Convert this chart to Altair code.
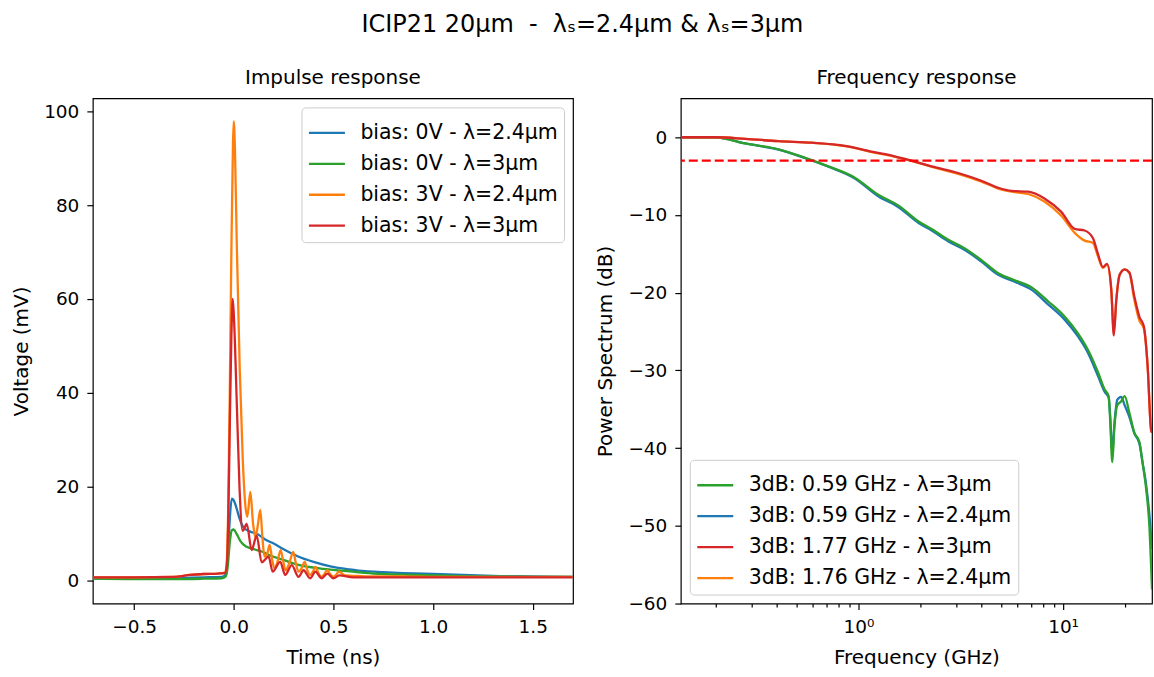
import altair as alt
import pandas as pd

FONT = "DejaVu Sans"

# ---------------- Impulse response data ----------------
imp_labels = ["bias: 0V - λ=2.4µm", "bias: 0V - λ=3µm", "bias: 3V - λ=2.4µm", "bias: 3V - λ=3µm"]
imp_colors = ["#1f77b4", "#2ca02c", "#ff7f0e", "#d62728"]

t_blue = [-0.707, -0.5, -0.3, -0.15, -0.06, -0.04, -0.03, -0.02, -0.01, 0.0, 0.015, 0.03, 0.05, 0.08, 0.12,
          0.16, 0.2, 0.25, 0.32, 0.4, 0.49, 0.58, 0.66, 0.75, 0.85, 1.0, 1.15, 1.3, 1.5, 1.7]
v_blue = [0.3, 0.3, 0.4, 0.6, 0.7, 1.2, 5.0, 13.0, 17.4, 17.0, 15.2, 13.0, 11.2, 10.4, 9.8,
          8.6, 7.8, 6.6, 5.1, 3.9, 2.9, 2.3, 1.9, 1.7, 1.5, 1.3, 1.1, 0.9, 0.8, 0.7]

t_green = [-0.707, -0.5, -0.3, -0.15, -0.06, -0.04, -0.03, -0.02, -0.01, 0.0, 0.015, 0.035, 0.065, 0.1,
           0.14, 0.18, 0.25, 0.33, 0.43, 0.55, 0.7, 0.9, 1.2, 1.5, 1.7]
v_green = [0.3, 0.2, 0.2, 0.3, 0.4, 0.8, 3.0, 8.0, 10.6, 10.8, 9.8, 8.2, 7.1, 6.6,
           6.1, 5.3, 4.3, 3.2, 2.5, 2.0, 1.4, 1.1, 0.8, 0.7, 0.7]

t_orange = [-0.707, -0.5, -0.3, -0.22, -0.15, -0.08, -0.045, -0.035, -0.028, -0.02, -0.012, -0.004, 0.0,
            0.006, 0.015, 0.03, 0.045, 0.058, 0.068, 0.083, 0.097, 0.108, 0.12, 0.133, 0.144, 0.154,
            0.167, 0.18, 0.192, 0.204, 0.22, 0.235, 0.248, 0.26, 0.28, 0.298, 0.312, 0.325, 0.34,
            0.356, 0.37, 0.383, 0.397, 0.41, 0.425, 0.44, 0.455, 0.468, 0.485, 0.5, 0.515, 0.527,
            0.56, 0.62, 0.7, 0.85, 1.0, 1.2, 1.4, 1.7]
v_orange = [0.6, 0.6, 0.7, 1.1, 1.3, 1.4, 1.6, 4.0, 15.0, 40.0, 70.0, 93.0, 97.9,
            92.0, 72.0, 45.0, 26.0, 16.0, 13.5, 18.8, 12.0, 9.2, 11.5, 15.0, 9.0, 5.0,
            5.5, 7.5, 4.5, 2.5, 4.0, 6.4, 4.0, 2.1, 3.8, 6.0, 3.5, 1.8, 2.5,
            3.9, 2.0, 1.1, 1.8, 2.8, 1.5, 0.7, 1.3, 2.1, 1.2, 0.7, 1.2, 1.8,
            1.0, 0.9, 0.8, 0.8, 0.7, 0.7, 0.7, 0.7]

t_red = [-0.707, -0.5, -0.3, -0.22, -0.15, -0.08, -0.045, -0.035, -0.028, -0.021, -0.012, -0.005, 0.002,
         0.015, 0.029, 0.045, 0.065, 0.09, 0.115, 0.14, 0.175, 0.195, 0.233, 0.258, 0.291, 0.325,
         0.35, 0.383, 0.41, 0.44, 0.47, 0.5, 0.53, 0.6, 0.8, 1.0, 1.3, 1.7]
v_red = [0.6, 0.6, 0.7, 1.1, 1.3, 1.4, 1.5, 3.0, 12.0, 30.0, 52.0, 60.0, 55.0,
         38.0, 19.6, 10.5, 12.0, 6.4, 9.5, 3.8, 5.0, 1.8, 3.9, 1.1, 3.2, 0.7,
         2.1, 0.4, 1.8, 0.4, 1.4, 0.4, 1.0, 0.6, 0.6, 0.6, 0.6, 0.6]

# ---------------- Frequency response data ----------------
fr_labels = ["3dB: 0.59 GHz - λ=3µm", "3dB: 0.59 GHz - λ=2.4µm", "3dB: 1.77 GHz - λ=3µm", "3dB: 1.76 GHz - λ=2.4µm"]
fr_colors = ["#2ca02c", "#1f77b4", "#d62728", "#ff7f0e"]

f_low = [0.1355, 0.2, 0.28, 0.407, 0.55, 0.714, 0.96, 1.25, 1.57, 1.96, 2.28, 2.75, 3.31, 3.99, 4.82,
         5.8, 7.0, 8.44, 10.2, 11.8, 13.2, 14.8, 16.0, 16.7, 17.0, 17.4, 17.8, 18.4, 19.2, 20.0,
         21.1, 22.3, 23.6, 24.5, 25.4, 26.4, 27.2]
db_blue = [0.0, 0.0, -0.8, -1.6, -2.7, -3.8, -5.3, -7.6, -9.0, -11.0, -12.0, -13.4, -14.5, -16.0, -17.7,
           -18.6, -19.6, -21.5, -23.5, -25.6, -27.7, -30.7, -32.8, -33.5, -36.0, -40.7, -37.0, -33.8, -33.4, -34.5,
           -36.0, -38.1, -39.4, -42.0, -44.5, -48.5, -53.0]
db_green = [0.0, 0.0, -0.8, -1.55, -2.65, -3.75, -5.2, -7.4, -8.8, -10.8, -11.8, -13.2, -14.3, -15.8, -17.5,
            -18.4, -19.3, -21.1, -23.1, -25.2, -27.3, -30.2, -32.5, -33.3, -36.5, -41.8, -37.5, -34.5, -34.0, -33.3,
            -35.5, -38.0, -39.2, -42.0, -45.0, -50.0, -58.2]

f_high = [0.1355, 0.2, 0.28, 0.407, 0.59, 0.86, 1.16, 1.5, 1.96, 2.28, 3.07, 3.99, 4.82, 5.6, 6.75,
          8.14, 9.8, 11.4, 12.75, 14.0, 14.8, 15.65, 16.4, 17.2, 17.7, 18.2, 18.9, 20.0, 21.1, 22.3,
          23.6, 24.8, 25.9, 26.9, 27.2]
db_orange = [0.0, 0.0, -0.2, -0.5, -0.7, -1.15, -1.9, -2.5, -3.3, -3.8, -4.7, -5.7, -6.6, -7.0, -7.3,
             -8.3, -10.1, -12.3, -13.3, -13.6, -15.3, -16.8, -16.4, -19.6, -25.0, -20.9, -17.7, -17.0, -17.5, -20.9,
             -23.6, -24.6, -29.5, -37.6, -38.0]
db_red = [0.0, 0.0, -0.2, -0.5, -0.7, -1.1, -1.85, -2.45, -3.25, -3.75, -4.6, -5.6, -6.5, -6.9, -7.0,
          -7.9, -9.6, -11.8, -12.0, -13.0, -15.0, -16.7, -16.3, -19.6, -25.5, -21.0, -17.7, -17.0, -17.4, -20.5,
          -23.1, -24.3, -29.5, -37.6, -38.0]

threshold_db = [-3]

# ---------------- build tables ----------------
imp_series = [(imp_labels[0], t_blue, v_blue), (imp_labels[1], t_green, v_green),
              (imp_labels[2], t_orange, v_orange), (imp_labels[3], t_red, v_red)]
fr_series = [(fr_labels[1], f_low, db_blue), (fr_labels[0], f_low, db_green),
             (fr_labels[3], f_high, db_orange), (fr_labels[2], f_high, db_red)]

imp_df = pd.DataFrame([{"t": t, "v": v, "series": lab, "i": i}
                       for lab, ts, vs in imp_series for i, (t, v) in enumerate(zip(ts, vs))])
fr_df = pd.DataFrame([{"f": f, "db": d, "series": lab, "i": i}
                      for lab, fs, ds in fr_series for i, (f, d) in enumerate(zip(fs, ds))])
thr_df = pd.DataFrame({"db": threshold_db})

LW = 2.3


def legend(orient):
    return alt.Legend(title=None, orient=orient, offset=9, fillColor="white", strokeColor="#cccccc",
                      cornerRadius=4, padding=6, symbolType="stroke", symbolStrokeWidth=LW,
                      symbolSize=1300, labelFontSize=20.5, labelFont=FONT, labelColor="black",
                      rowPadding=1, labelOffset=14, labelLimit=400)


# ---------------- left panel ----------------
x_imp = alt.X("t:Q", scale=alt.Scale(domain=[-0.707, 1.702], nice=False, zero=False),
              axis=alt.Axis(values=[-0.5, 0, 0.5, 1.0, 1.5], format=".1f", title="Time (ns)"))
y_imp = alt.Y("v:Q", scale=alt.Scale(domain=[-5.0, 102.8], nice=False, zero=False),
              axis=alt.Axis(values=[0, 20, 40, 60, 80, 100], format="d", title="Voltage (mV)"))
c_imp = alt.Color("series:N", scale=alt.Scale(domain=imp_labels, range=imp_colors), legend=legend("top-right"))

left_layers = []
for lab, _, _ in imp_series:
    left_layers.append(
        alt.Chart(imp_df).transform_filter(alt.datum.series == lab)
        .mark_line(strokeWidth=LW, clip=True, interpolate="monotone")
        .encode(x=x_imp, y=y_imp, color=c_imp, order="i:Q")
    )
left = alt.layer(*left_layers).properties(
    width=481, height=506,
    title=alt.TitleParams("Impulse response", fontSize=20, font=FONT, fontWeight="normal", offset=10, color="black"))

# ---------------- right panel ----------------
fscale = alt.Scale(type="log", domain=[0.1355, 27.2], nice=False)
y_fr = alt.Y("db:Q", scale=alt.Scale(domain=[-60, 5], nice=False, zero=False),
             axis=alt.Axis(values=[0, -10, -20, -30, -40, -50, -60], format="d", title="Power Spectrum (dB)"))
c_fr = alt.Color("series:N", scale=alt.Scale(domain=fr_labels, range=fr_colors), legend=legend("bottom-left"))

major_axis = alt.Axis(values=[1, 10], labelExpr="datum.value == 1 ? '10⁰' : '10¹'",
                      title="Frequency (GHz)", orient="bottom")
minor_axis = alt.Axis(values=[0.2, 0.3, 0.4, 0.5, 0.6, 0.7, 0.8, 0.9, 2, 3, 4, 5, 6, 7, 8, 9, 20],
                      labels=False, tickSize=3.5, title=None, orient="bottom")

right_layers = []
for k, (lab, _, _) in enumerate(fr_series):
    ax = major_axis if k == 0 else (minor_axis if k == 1 else None)
    right_layers.append(
        alt.Chart(fr_df).transform_filter(alt.datum.series == lab)
        .mark_line(strokeWidth=LW, clip=True, interpolate="monotone")
        .encode(x=alt.X("f:Q", scale=fscale, axis=ax), y=y_fr, color=c_fr, order="i:Q")
    )
rule = alt.Chart(thr_df).mark_rule(color="red", strokeWidth=2.3, strokeDash=[9, 4]).encode(y=alt.Y("db:Q"))
right = alt.layer(*right_layers, rule).resolve_axis(x="independent").properties(
    width=472, height=506,
    title=alt.TitleParams("Frequency response", fontSize=20, font=FONT, fontWeight="normal", offset=10, color="black"))

chart = alt.hconcat(left, right, spacing=21).resolve_scale(color="independent").properties(
    title=alt.TitleParams("ICIP21 20µm\u00a0 -\u00a0 λₛ=2.4µm & λₛ=3µm", fontSize=24, font=FONT, fontWeight="normal",
                          anchor="middle", color="black", offset=31),
    padding={"left": 11, "top": 12, "right": 0, "bottom": 0},
    background="white",
).configure_view(stroke="black", strokeWidth=1.2).configure_axis(
    grid=False, domain=False, tickColor="black", tickSize=6, tickWidth=1.2, labelColor="black",
    titleColor="black", labelFont=FONT, titleFont=FONT, labelFontSize=18.5, titleFontSize=20,
    titleFontWeight="normal", labelPadding=8, titlePadding=12
)

chart.save("out.html", embed_options={"renderer": "svg", "actions": False})
